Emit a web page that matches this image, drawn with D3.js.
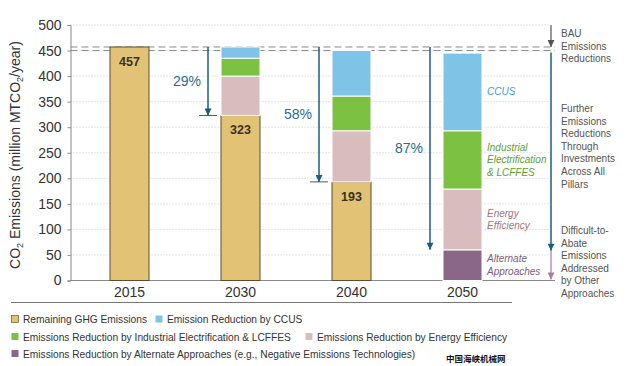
<!DOCTYPE html>
<html>
<head>
<meta charset="utf-8">
<script src="https://cdn.jsdelivr.net/npm/d3@7/dist/d3.min.js"></script>
<style>
  body { margin: 0; background: #fff; }
  svg { display: block; font-family: "Liberation Sans", Arial, Helvetica, sans-serif; }
</style>
</head>
<body>
<svg id="chart" width="633" height="366"></svg>
<script>
// values (million MTCO2/year)
var years = ["2015", "2030", "2040", "2050"];
var alternate = [0, 0, 0, 60];
var remaining = [457, 323, 193, 0];
var energyEff = [0, 77, 100, 119];
var industrial = [0, 35, 68, 114];
var ccus = [0, 22, 89, 152];

var bauLevels = [457, 450];
var reductionYears = ["2030", "2040", "2050"];
var reductionPct = ["29%", "58%", "87%"];
var yTicks = [0, 50, 100, 150, 200, 250, 300, 350, 400, 450, 500];

var seriesKeys = ["alternate", "remaining", "energyEff", "industrial", "ccus"];
var seriesColor = {
  remaining: "#e2c375",
  ccus: "#7fc3e7",
  industrial: "#7dc143",
  energyEff: "#d8bcbe",
  alternate: "#8b6787"
};

var inlineLabels = [
  { key: "ccus", lines: ["CCUS"], color: "#3c9bd2" },
  { key: "industrial", lines: ["Industrial", "Electrification", "& LCFFES"], color: "#5c9e30" },
  { key: "energyEff", lines: ["Energy", "Efficiency"], color: "#a3747c" },
  { key: "alternate", lines: ["Alternate", "Approaches"], color: "#7d5d7b" }
];

var sideNotes = [
  { lines: ["BAU", "Emissions", "Reductions"], y: 33 },
  { lines: ["Further", "Emissions", "Reductions", "Through", "Investments", "Across All", "Pillars"], y: 108 },
  { lines: ["Difficult-to-", "Abate", "Emissions", "Addressed", "by Other", "Approaches"], y: 230 }
];

var legendItems = [
  { key: "remaining", label: "Remaining GHG Emissions", row: 0, x: 11 },
  { key: "ccus", label: "Emission Reduction by CCUS", row: 0, x: 155 },
  { key: "industrial", label: "Emissions Reduction by Industrial Electrification & LCFFES", row: 1, x: 11 },
  { key: "energyEff", label: "Emissions Reduction by Energy Efficiency", row: 1, x: 305 },
  { key: "alternate", label: "Emissions Reduction by Alternate Approaches (e.g., Negative Emissions Technologies)", row: 2, x: 11 }
];

var svg = d3.select("#chart");

var x0 = 70.5, x1 = 555;
var x = d3.scalePoint().domain(years).range([129.5, 462.5]);
var y = d3.scaleLinear().domain([0, 500]).range([280.5, 25]);
var barW = 39;

var table = years.map(function(yr, i) {
  return {
    year: yr, alternate: alternate[i], remaining: remaining[i], energyEff: energyEff[i],
    industrial: industrial[i], ccus: ccus[i]
  };
});
var stacked = d3.stack().keys(seriesKeys)(table);

// gridlines
svg.append("g").selectAll("line")
  .data(yTicks.filter(function(t) { return t > 0; }))
  .enter().append("line")
  .attr("x1", x0).attr("x2", 550)
  .attr("y1", function(d) { return y(d); }).attr("y2", function(d) { return y(d); })
  .attr("stroke", "#c8c8c8").attr("stroke-width", 1).attr("stroke-dasharray", "1,2");

// y axis
var yAxis = svg.append("g").attr("transform", "translate(" + x0 + ",0)")
  .call(d3.axisLeft(y).tickValues(yTicks).tickSize(3).tickPadding(6));
yAxis.select(".domain").attr("stroke", "#888");
yAxis.selectAll(".tick line").attr("stroke", "#888");
yAxis.selectAll(".tick text").attr("font-size", 14).attr("fill", "#333")
  .attr("font-family", "\"Liberation Sans\", Arial, sans-serif");

// baseline
svg.append("line").attr("x1", x0).attr("x2", x1).attr("y1", y(0)).attr("y2", y(0))
  .attr("stroke", "#888").attr("stroke-width", 1);

// y title
var yt = svg.append("text")
  .attr("transform", "translate(20," + 155 + ") rotate(-90)")
  .attr("text-anchor", "middle").attr("font-size", 14).attr("fill", "#333");
yt.append("tspan").text("CO");
yt.append("tspan").attr("font-size", 9).attr("dy", 3).text("2");
yt.append("tspan").attr("dy", -3).text(" Emissions (million MTCO");
yt.append("tspan").attr("font-size", 9).attr("dy", 3).text("2");
yt.append("tspan").attr("dy", -3).text("/year)");

// dashed BAU lines
svg.append("g").selectAll("line").data(bauLevels).enter().append("line")
  .attr("x1", x0).attr("x2", x1)
  .attr("y1", function(d) { return y(d); }).attr("y2", function(d) { return y(d); })
  .attr("stroke", "#8a8a8a").attr("stroke-width", 1).attr("stroke-dasharray", "7,4");

// bars
svg.append("g").selectAll("g").data(stacked).enter().append("g")
  .each(function(layer) {
    var k = layer.key;
    d3.select(this).selectAll("rect")
      .data(layer.filter(function(d) { return d[1] - d[0] > 0; }))
      .enter().append("rect")
      .attr("x", function(d) { return x(d.data.year) - barW / 2; })
      .attr("width", barW)
      .attr("y", function(d) { return y(d[1]); })
      .attr("height", function(d) { return y(d[0]) - y(d[1]); })
      .attr("fill", seriesColor[k])
      .attr("stroke", k === "remaining" ? "#5e4e30" : "#fff")
      .attr("stroke-width", 1);
  });

// remaining value labels
svg.append("g").selectAll("text")
  .data(table.filter(function(d) { return d.remaining > 0; }))
  .enter().append("text")
  .attr("x", function(d) { return x(d.year); })
  .attr("y", function(d) { return y(d.remaining) + 19; })
  .attr("text-anchor", "middle").attr("font-size", 12.5).attr("font-weight", "bold")
  .attr("fill", "#3b3020")
  .text(function(d) { return d.remaining; });

// reduction arrows
var arrowBlue = "#1d5e7e";
var defs = svg.append("defs");
function marker(id, color) {
  defs.append("marker").attr("id", id).attr("viewBox", "0 0 10 10")
    .attr("refX", 10).attr("refY", 5).attr("markerWidth", 9).attr("markerHeight", 7)
    .attr("markerUnits", "userSpaceOnUse").attr("orient", "auto")
    .append("path").attr("d", "M0,0L10,5L0,10Z").attr("fill", color);
}
marker("ahBlue", arrowBlue);
marker("ahGray", "#555");
marker("ahMauve", "#a5809b");

reductionYears.forEach(function(yr, i) {
  var d = table[years.indexOf(yr)];
  var target = d.remaining > 0 ? d.remaining : d.alternate;
  var ax = x(yr) - 32.5;
  var yTop = y(bauLevels[0]);
  var yEnd = y(target);
  svg.append("line").attr("x1", ax).attr("x2", ax).attr("y1", yTop).attr("y2", yEnd)
    .attr("stroke", arrowBlue).attr("stroke-width", 1.5).attr("marker-end", "url(#ahBlue)");
  if (d.remaining > 0) {
    svg.append("line").attr("x1", ax - 9).attr("x2", ax + 9).attr("y1", yEnd).attr("y2", yEnd)
      .attr("stroke", "#555").attr("stroke-width", 1);
  }
  svg.append("text").attr("x", ax - 21).attr("y", (yTop + yEnd) / 2 + 5)
    .attr("text-anchor", "middle").attr("font-size", 14).attr("fill", "#2b6b8b")
    .text(reductionPct[i]);
});

// inline labels on the 2050 bar
var last = years.length - 1;
inlineLabels.forEach(function(lb) {
  var seg = stacked[seriesKeys.indexOf(lb.key)][last];
  var mid = (y(seg[0]) + y(seg[1])) / 2;
  var lh = 12.7;
  var t = svg.append("text").attr("font-size", 10).attr("font-style", "italic").attr("fill", lb.color);
  lb.lines.forEach(function(s, j) {
    t.append("tspan").attr("x", x(years[last]) + barW / 2 + 5)
      .attr("y", mid + 3.5 + (j - (lb.lines.length - 1) / 2) * lh).text(s);
  });
});

// right side arrows
var rx = 551;
svg.append("line").attr("x1", rx).attr("x2", rx).attr("y1", 25).attr("y2", y(bauLevels[0]))
  .attr("stroke", "#555").attr("stroke-width", 1.2).attr("marker-end", "url(#ahGray)");
svg.append("line").attr("x1", rx).attr("x2", rx).attr("y1", y(bauLevels[1]) + 2).attr("y2", y(alternate[last]) + 1)
  .attr("stroke", arrowBlue).attr("stroke-width", 1.5).attr("marker-end", "url(#ahBlue)");
svg.append("line").attr("x1", rx).attr("x2", rx).attr("y1", y(alternate[last]) + 1).attr("y2", y(0) - 1)
  .attr("stroke", "#a5809b").attr("stroke-width", 1.2).attr("marker-end", "url(#ahMauve)");

sideNotes.forEach(function(n) {
  var t = svg.append("text").attr("font-size", 10).attr("fill", "#555");
  n.lines.forEach(function(s, j) {
    t.append("tspan").attr("x", 561).attr("y", n.y + 4 + j * 12.6).text(s);
  });
});

// x labels
svg.append("g").selectAll("text").data(years).enter().append("text")
  .attr("x", function(d) { return x(d); }).attr("y", 297)
  .attr("text-anchor", "middle").attr("font-size", 14).attr("fill", "#333")
  .text(function(d) { return d; });

// separator
svg.append("line").attr("x1", 11).attr("x2", 512).attr("y1", 302.5).attr("y2", 302.5)
  .attr("stroke", "#777").attr("stroke-width", 1);

// legend
var rowY = [319, 336.5, 353.5];
var lg = svg.append("g").selectAll("g").data(legendItems).enter().append("g")
  .attr("transform", function(d) { return "translate(" + d.x + "," + rowY[d.row] + ")"; });
lg.append("rect").attr("x", 0.5).attr("y", -3.5).attr("width", 7).attr("height", 7)
  .attr("fill", function(d) { return seriesColor[d.key]; })
  .attr("stroke", function(d) { return d.key === "remaining" ? "#7a6a48" : "none"; })
  .attr("stroke-width", 0.8);
lg.append("text").attr("x", 12).attr("y", 4).attr("font-size", 10.2).attr("fill", "#333")
  .text(function(d) { return d.label; });

// watermark
svg.append("text").attr("x", 446).attr("y", 362).attr("font-size", 8.5).attr("font-weight", "bold")
  .attr("font-family", "\"Noto Sans CJK SC\", sans-serif").attr("fill", "#111")
  .text("中国海峡机械网");
</script>
</body>
</html>
